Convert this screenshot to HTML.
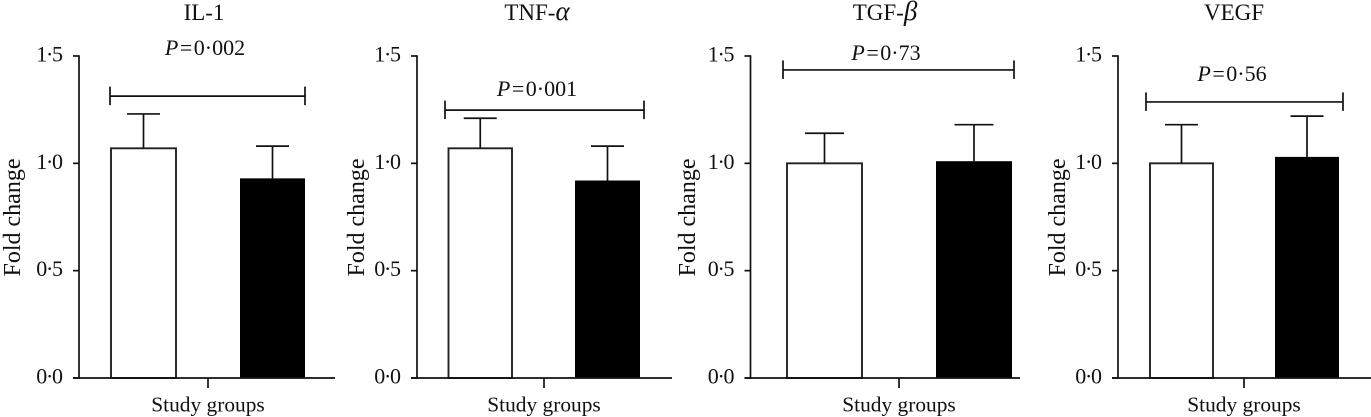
<!DOCTYPE html>
<html lang="en">
<head>
<meta charset="utf-8">
<title>Fold change by study group</title>
<style>
html,body{margin:0;padding:0;background:#fff;width:1371px;height:417px;overflow:hidden}
svg{display:block}
text{font-family:"Liberation Serif",serif;fill:#111}
</style>
</head>
<body>
<svg id="chart" width="1371" height="417" viewBox="0 0 1371 417" xmlns="http://www.w3.org/2000/svg"></svg>
<script>
// ---- Data ----
const panelPrefixes = ['IL-1', 'TNF-', 'TGF-', 'VEGF'];
const panelGreek = ['', 'α', 'β', ''];
const whiteMeans = [1.07, 1.07, 1.00, 1.00];
const whiteErrorTops = [1.23, 1.21, 1.14, 1.18];
const blackMeans = [0.93, 0.92, 1.01, 1.03];
const blackErrorTops = [1.08, 1.08, 1.18, 1.22];
const bracketLevels = [1.313, 1.248, 1.435, 1.286];
const pValues = ['0·002', '0·001', '0·73', '0·56'];
const yTickValues = [0, 0.5, 1.0, 1.5];
const yTickLabels = ['0·0', '0·5', '1·0', '1·5'];
const yAxisTitle = 'Fold change';
const xAxisTitle = 'Study groups';

// ---- Layout (pixels, per panel; not data) ----
const layouts = [
  {axis:79,  xEnd:335,  white:[111,176],   black:[240,305],  tick:208,  br:[110,305],  pc:205, pb:55, title:204, yt:20,  cap:33},
  {axis:417, xEnd:672,  white:[448.5,512], black:[575,640],  tick:544,  br:[445,644],  pc:537, pb:96, title:537, yt:364, cap:33},
  {axis:750.5,xEnd:1020,white:[787,862],   black:[936,1012], tick:899,  br:[783,1014], pc:886, pb:60, title:885, yt:695, cap:39},
  {axis:1118,xEnd:1371, white:[1150,1213], black:[1275,1339],tick:1244, br:[1146,1343],pc:1232,pb:81, title:1234,yt:1065,cap:33}
];
const yZero = 378, yPerUnit = 214.67, tickLen = 6;
const yScale = v => yZero - v * yPerUnit;

// ---- Drawing ----
const NS = 'http://www.w3.org/2000/svg';
const svg = document.getElementById('chart');
function make(tag, attrs, parent) {
  const el = document.createElementNS(NS, tag);
  for (const k in attrs) el.setAttribute(k, attrs[k]);
  parent.appendChild(el);
  return el;
}
function line(x1, y1, x2, y2, w, parent) {
  return make('line', {x1, y1, x2, y2, stroke:'#111', 'stroke-width':w}, parent);
}

panelPrefixes.forEach((prefix, i) => {
  const L = layouts[i];
  const panelName = (prefix + panelGreek[i]).toLowerCase().replace('α','alpha').replace('β','beta');

  const g = make('g', {}, svg);
  
  

  // title
  const title = make('text', {x:L.title, y:20, 'text-anchor':'middle', 'font-size':23}, g);
  
  
  title.appendChild(document.createTextNode(prefix));
  if (panelGreek[i]) {
    const gr = make('tspan', {'font-style':'italic', 'font-size':27}, title);
    gr.textContent = panelGreek[i];
  }

  // white bar
  const wTop = yScale(whiteMeans[i]);
  const wErr = yScale(whiteErrorTops[i]);
  const wMid = (L.white[0] + L.white[1]) / 2;
  const wBar = make('rect', {x:L.white[0], y:wTop, width:L.white[1]-L.white[0], height:yZero-wTop, fill:'#fff', stroke:'#222', 'stroke-width':1.9}, g);
  
  
  const wStem = line(wMid, wTop, wMid, wErr, 1.7, g);
  
  
  const wCap = line(wMid - L.cap/2, wErr, wMid + L.cap/2, wErr, 1.7, g);
  
  

  // black bar
  const bTop = yScale(blackMeans[i]);
  const bErr = yScale(blackErrorTops[i]);
  const bMid = (L.black[0] + L.black[1]) / 2;
  const bBar = make('rect', {x:L.black[0], y:bTop, width:L.black[1]-L.black[0], height:yZero-bTop, fill:'#000'}, g);
  
  
  const bStem = line(bMid, bTop, bMid, bErr, 1.7, g);
  
  
  const bCap = line(bMid - L.cap/2, bErr, bMid + L.cap/2, bErr, 1.7, g);
  
  

  // axes
  const yAxis = line(L.axis, yScale(1.5) - 0.8, L.axis, yZero + 0.8, 1.7, g);
  
  
  const xAxis = line(L.axis - tickLen, yZero, L.xEnd, yZero, 1.7, g);
  
  
  const xTick = line(L.tick, yZero, L.tick, yZero + 10, 1.7, g);
  
  

  yTickValues.forEach((v, t) => {
    const y = yScale(v);
    const tk = line(L.axis - tickLen, y, L.axis, y, 1.7, g);
    
    
    const lb = make('text', {x:L.axis - 16, y:y + 5.5, 'text-anchor':'end', 'font-size':22, 'letter-spacing':-1.3, dx:-1.3}, g);
    
    
    lb.textContent = yTickLabels[t];
  });

  // axis titles
  const yT = make('text', {x:0, y:0, 'text-anchor':'middle', 'font-size':24, transform:'translate(' + L.yt + ',217.5) rotate(-90)'}, g);
  
  
  yT.textContent = yAxisTitle;
  const xT = make('text', {x:L.tick, y:411.5, 'text-anchor':'middle', 'font-size':21.4}, g);
  
  
  xT.textContent = xAxisTitle;

  // significance bracket
  const by = yScale(bracketLevels[i]);
  const brH = line(L.br[0], by, L.br[1], by, 1.7, g);
  
  
  const brL = line(L.br[0], by - 9.5, L.br[0], by + 9, 1.7, g);
  
  
  const brR = line(L.br[1], by - 9.5, L.br[1], by + 9, 1.7, g);
  
  

  // p value
  const p = make('text', {x:L.pc, y:L.pb, 'text-anchor':'middle', 'font-size':22}, g);
  
  
  const pi = make('tspan', {'font-style':'italic'}, p);
  pi.textContent = 'P';
  const eq = make('tspan', {dx:1.5}, p);
  eq.textContent = '=';
  const pv = make('tspan', {dx:1.5}, p);
  pv.textContent = pValues[i];
});
</script>
</body>
</html>
